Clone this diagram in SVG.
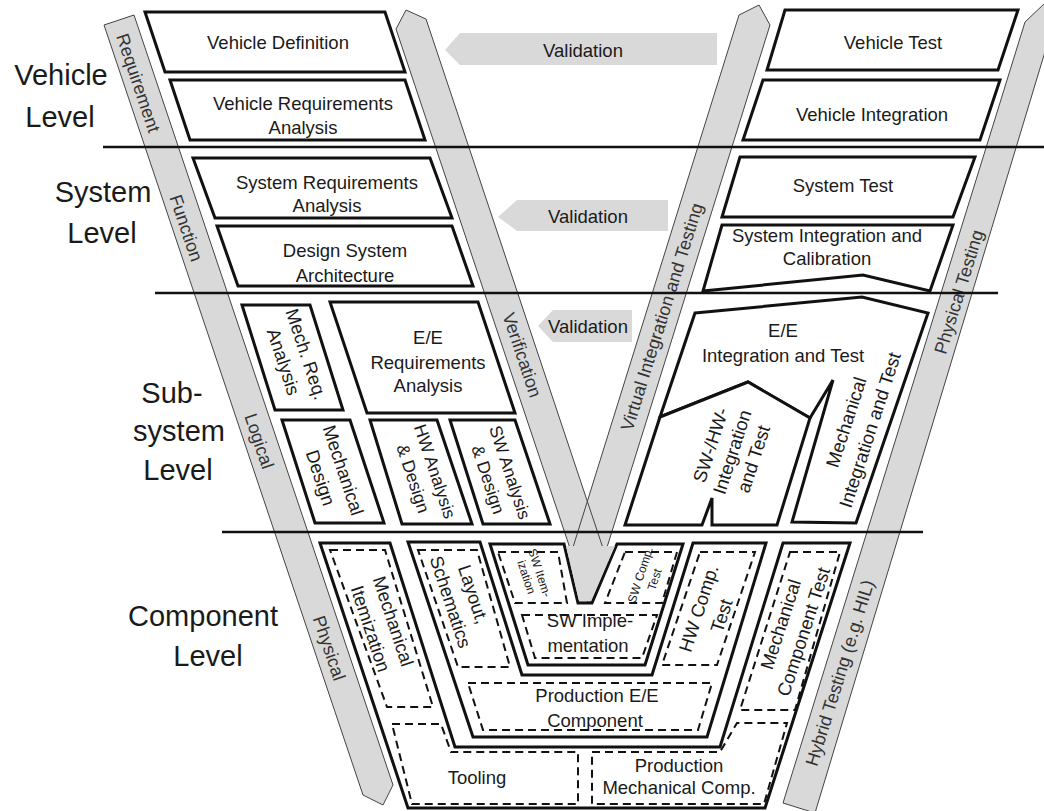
<svg xmlns="http://www.w3.org/2000/svg" width="1044" height="811" viewBox="0 0 1044 811">
<style>
.t{font-family:"Liberation Sans",Arial,sans-serif;fill:#1a1a1a;text-anchor:middle}
.lv{font-size:29px}
.b{font-size:18.5px}
.b2{font-size:17.5px}
.bt{font-size:18px;fill:#333}
.sm{font-size:12px}
.sm2{font-size:12px}
.box{fill:#fff;stroke:#111;stroke-width:3;stroke-linejoin:miter}
.dash{fill:none;stroke:#111;stroke-width:2;stroke-dasharray:8 5}
.band{fill:#d9d9d9;stroke:none}
.bandl{fill:none;stroke:#444;stroke-width:1}
.arr{fill:#d9d9d9}
.hl{stroke:#111;stroke-width:2.5}
</style>
<rect width="1044" height="811" fill="#fff"/>

<g id="bands">
<polygon class="band" points="104,25 134,15 393,785 383,805 363,795"/>
<polygon class="band" points="396,29 406,10 426,19 622,605 589,605"/>
<polygon class="band" points="739,15 759,5 770,25 589,605 555,605"/>
<polygon class="band" points="783,803 1025,22 1045,3 1057,12 815,813"/>
<polygon class="bandl" points="104,25 134,15 393,785 383,805 363,795"/>
<polygon class="bandl" points="396,29 406,10 426,19 622,605 589,605"/>
<polygon class="bandl" points="739,15 759,5 770,25 589,605 555,605"/>
<polygon class="bandl" points="783,803 1025,22 1045,3 1057,12 815,813"/>
<text class="t bt" transform="translate(138,83) rotate(71.4)" y="6">Requirement</text>
<text class="t bt" transform="translate(186,228) rotate(71.4)" y="6">Function</text>
<text class="t bt" transform="translate(259,441) rotate(71.4)" y="6">Logical</text>
<text class="t bt" transform="translate(329,648) rotate(71.4)" y="6">Physical</text>
<text class="t bt" transform="translate(522,355) rotate(71.5)" y="6">Verification</text>
<text class="t bt" transform="translate(662,317) rotate(-72.6)" y="6">Virtual Integration and Testing</text>
<text class="t bt" transform="translate(959,292) rotate(-72.8)" y="6">Physical Testing</text>
<text class="t bt" transform="translate(840,673) rotate(-72.8)" y="6">Hybrid Testing (e.g. HIL)</text>
</g>

<g id="levels">
<line class="hl" x1="103" y1="147" x2="1044" y2="147"/>
<line class="hl" x1="155" y1="293" x2="998" y2="293"/>
<line class="hl" x1="222" y1="532" x2="923" y2="532"/>
<text class="t lv" x="61" y="85">Vehicle</text>
<text class="t lv" x="60" y="127">Level</text>
<text class="t lv" x="103" y="202">System</text>
<text class="t lv" x="102" y="243">Level</text>
<text class="t lv" x="172" y="403">Sub-</text>
<text class="t lv" x="179" y="441">system</text>
<text class="t lv" x="178" y="480">Level</text>
<text class="t lv" x="203" y="626">Component</text>
<text class="t lv" x="208" y="666">Level</text>
</g>

<g id="validation">
<polygon class="arr" points="445,50 460,33 717,33 717,65 460,65"/>
<text class="t b" x="583" y="56.5" fill="#333">Validation</text>
<polygon class="arr" points="498,217 517,200 668,200 668,231 517,231"/>
<text class="t b" x="588" y="223" fill="#333">Validation</text>
<polygon class="arr" points="538,326 553,310 632,310 632,342 553,342"/>
<text class="t b" x="588" y="332.5" fill="#333">Validation</text>
</g>

<g id="vehicle-definition">
<polygon class="box" points="145,12 385,12 405,72 165,72"/>
<text class="t b" x="278" y="48.5">Vehicle Definition</text>
</g>
<g id="vehicle-requirements">
<polygon class="box" points="170,80 405,80 425,140 190,140"/>
<text class="t b" x="303" y="109.5">Vehicle Requirements</text>
<text class="t b" x="303" y="133.5">Analysis</text>
</g>
<g id="system-requirements">
<polygon class="box" points="193,158 430,158 452,218 215,218"/>
<text class="t b" x="327" y="188.5">System Requirements</text>
<text class="t b" x="327" y="211.5">Analysis</text>
</g>
<g id="design-system-architecture">
<polygon class="box" points="217,226 452,226 473,286 238,286"/>
<text class="t b" x="345" y="256.5">Design System</text>
<text class="t b" x="345" y="281.5">Architecture</text>
</g>
<g id="vehicle-test">
<polygon class="box" points="785,10 1018,10 998,70 767,70"/>
<text class="t b" x="893" y="48.5">Vehicle Test</text>
</g>
<g id="vehicle-integration">
<polygon class="box" points="763,80 1000,80 980,140 743,140"/>
<text class="t b" x="872" y="121">Vehicle Integration</text>
</g>
<g id="system-test">
<polygon class="box" points="740,157 975,157 953,217 722,217"/>
<text class="t b" x="843" y="191.5">System Test</text>
</g>
<g id="system-integration">
<polygon class="box" points="722,225 953,225 930,291 863,275 703,291"/>
<text class="t b" x="827" y="241.5">System Integration and</text>
<text class="t b" x="827" y="264.5">Calibration</text>
</g>

<g id="mech-req">
<polygon class="box" points="242,305 310,305 343,410 275,410"/>
<text class="t b" transform="translate(295,358) rotate(71.7)"><tspan x="0" y="-5.5">Mech. Req.</tspan><tspan x="0" y="18.5">Analysis</tspan></text>
</g>
<g id="ee-req">
<polygon class="box" points="330,302 478,302 515,413 367,413"/>
<text class="t b" x="428" y="343.5">E/E</text>
<text class="t b" x="428" y="368.5">Requirements</text>
<text class="t b" x="428" y="391.5">Analysis</text>
</g>
<g id="mech-design">
<polygon class="box" points="282,420 350,420 384,523 315,523"/>
<text class="t b" transform="translate(332,474) rotate(71.7)"><tspan x="0" y="-5.5">Mechanical</tspan><tspan x="0" y="18.5">Design</tspan></text>
</g>
<g id="hw-design">
<polygon class="box" points="370,420 437,420 472,524 402,524"/>
<text class="t b2" transform="translate(424,475) rotate(71.7)"><tspan x="0" y="-5.5">HW Analysis</tspan><tspan x="0" y="17.5">&amp; Design</tspan></text>
</g>
<g id="sw-design">
<polygon class="box" points="450,420 515,420 550,524 483,524"/>
<text class="t b2" transform="translate(499,476) rotate(71.7)"><tspan x="0" y="-5.5">SW Analysis</tspan><tspan x="0" y="17.5">&amp; Design</tspan></text>
</g>

<g id="ee-integration">
<polygon class="box" points="695,313 862,297 928,313 856,523 792,522 833,380 810,418 748,382 660,417"/>
<text class="t b" x="783" y="336.5">E/E</text>
<text class="t b" x="783" y="361.5">Integration and Test</text>
</g>
<g id="swhw-integration">
<polygon class="box" points="660,417 748,382 810,418 777,525 712,525 712,498 702,525 625,525"/>
<text class="t b" transform="translate(732,452) rotate(-72)"><tspan x="0" y="-16">SW-/HW-</tspan><tspan x="0" y="6.5">Integration</tspan><tspan x="0" y="29">and Test</tspan></text>
</g>
<g id="mech-integration">
<text class="t b" transform="translate(858,426) rotate(-72)"><tspan x="0" y="-6">Mechanical</tspan><tspan x="0" y="19">Integration and Test</tspan></text>
</g>

<g id="mech-group">
<polygon class="box" points="320,543 390,543 455,747 720,747 783,543 850,543 765,808 408,808"/>
</g>
<g id="ee-group">
<polygon class="box" points="408,542 480,542 522,675 652,675 693,543 766,543 707,737 473,737"/>
</g>
<g id="sw-group">
<polygon class="box" points="490,544 564,544 578,603 592,603 617,544 683,544 645,665 528,665"/>
<polygon class="band" points="566,546 579,601 591,601 615,546"/>
</g>

<g id="mech-itemization">
<polygon class="dash" points="330,550 385,550 433,707 387,707"/>
<text class="t b" transform="translate(382,625) rotate(71.7)"><tspan x="0" y="-5.5">Mechanical</tspan><tspan x="0" y="18.5">Itemization</tspan></text>
</g>
<g id="tooling">
<polygon class="dash" points="392,724 441,724 451,752 578,752 578,804 412,804"/>
<text class="t b" x="477" y="783.5">Tooling</text>
</g>
<g id="prod-mech">
<polygon class="dash" points="592,752 720,752 737,723 787,723 764,804 592,804"/>
<text class="t b" x="679" y="771.5">Production</text>
<text class="t b" x="679" y="793.5">Mechanical Comp.</text>
</g>
<g id="mech-comp-test">
<polygon class="dash" points="790,552 840,552 795,710 740,710"/>
<text class="t b" transform="translate(792,628) rotate(-72)"><tspan x="0" y="-5.5">Mechanical</tspan><tspan x="0" y="18.5">Component Test</tspan></text>
</g>
<g id="layout">
<polygon class="dash" points="418,550 477,550 510,667 458,667"/>
<text class="t b" transform="translate(462,598) rotate(71.7)"><tspan x="0" y="-5.5">Layout,</tspan><tspan x="0" y="18.5">Schematics</tspan></text>
</g>
<g id="prod-ee">
<polygon class="dash" points="468,683 712,683 698,730 483,730"/>
<text class="t b" x="597" y="701.5">Production E/E</text>
<text class="t b" x="595" y="726.5">Component</text>
</g>
<g id="hw-comp-test">
<polygon class="dash" points="700,552 755,552 717,665 662,665"/>
<text class="t b" transform="translate(710,612) rotate(-72)"><tspan x="0" y="-5.5">HW Comp.</tspan><tspan x="0" y="18.5">Test</tspan></text>
</g>
<g id="sw-item">
<polygon class="dash" points="498,552 558,552 567,603 515,603"/>
<text class="t sm" transform="translate(533,575) rotate(71.7)"><tspan x="0" y="-3">SW Item-</tspan><tspan x="0" y="11">ization</tspan></text>
</g>
<g id="sw-comp-test">
<polygon class="dash" points="625,552 677,552 662,603 605,603"/>
<text class="t sm2" transform="translate(647,577) rotate(-72)"><tspan x="0" y="-3">SW Comp.</tspan><tspan x="0" y="12">Test</tspan></text>
</g>
<g id="sw-impl">
<polygon class="dash" points="522,615 657,615 642,658 535,658"/>
<text class="t b" x="590" y="626.5">SW Imple-</text>
<text class="t b" x="588" y="651.5">mentation</text>
</g>
</svg>
